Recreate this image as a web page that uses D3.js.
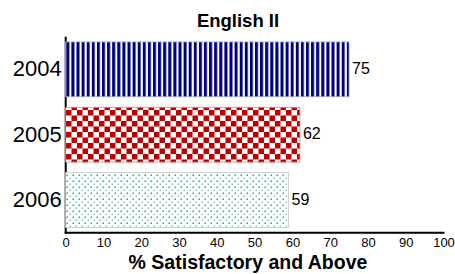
<!DOCTYPE html>
<html>
<head>
<meta charset="utf-8">
<script src="https://cdn.jsdelivr.net/npm/d3@7"></script>
<style>
html,body{margin:0;padding:0;background:#fff;}
svg{display:block;}
text{font-family:Arial,"Liberation Sans",sans-serif;fill:#000;}
</style>
</head>
<body>
<svg id="chart" width="455" height="274"></svg>
<script>
const categories = ["2004", "2005", "2006"];
const values = [75, 62, 59];
const xTicks = [0, 10, 20, 30, 40, 50, 60, 70, 80, 90, 100];
const title = "English II";
const xTitle = "% Satisfactory and Above";

const svg = d3.select("#chart");
const W = 455, H = 274;
const m = {left: 65.7, right: 11.5, top: 36.7, bottom: 41.3};

const x = d3.scaleLinear().domain([0, 100]).range([m.left, W - m.right]);
const y = d3.scaleBand().domain(categories).range([m.top, H - m.bottom]).paddingInner(0.16).paddingOuter(0.08);

// patterns
const defs = svg.append("defs");
const p1 = defs.append("pattern").attr("id", "p2004").attr("patternUnits", "userSpaceOnUse")
  .attr("width", 5.1).attr("height", 10);
p1.append("rect").attr("width", 5.1).attr("height", 10).attr("fill", "#fff");
p1.append("rect").attr("x", 0).attr("width", 3).attr("height", 10).attr("fill", "#000080");

const c = 5.5;
const p2 = defs.append("pattern").attr("id", "p2005").attr("patternUnits", "userSpaceOnUse")
  .attr("width", 2 * c).attr("height", 2 * c);
p2.append("rect").attr("width", 2 * c).attr("height", 2 * c).attr("fill", "#fff");
p2.append("rect").attr("x", 0).attr("y", 0).attr("width", c).attr("height", c).attr("fill", "#c00000");
p2.append("rect").attr("x", c).attr("y", c).attr("width", c).attr("height", c).attr("fill", "#c00000");

const d = 3;
const p3 = defs.append("pattern").attr("id", "p2006").attr("patternUnits", "userSpaceOnUse")
  .attr("width", 2 * d).attr("height", 2 * d);
p3.append("rect").attr("width", 2 * d).attr("height", 2 * d).attr("fill", "#fff");
p3.append("rect").attr("x", 0.5).attr("y", 0.5).attr("width", 1.5).attr("height", 1.5).attr("fill", "#2aaa7c");
p3.append("rect").attr("x", 0.5 + d).attr("y", 0.5 + d).attr("width", 1.5).attr("height", 1.5).attr("fill", "#7fd0b0");

const fills = {"2004": "url(#p2004)", "2005": "url(#p2005)", "2006": "url(#p2006)"};
const strokes = {"2004": "#b0b0c8", "2005": "#e08080", "2006": "#c8c8c8"};

// axes lines
svg.append("line").attr("x1", x(0)).attr("x2", x(0)).attr("y1", m.top).attr("y2", H - m.bottom + 1)
  .attr("stroke", "#000").attr("stroke-width", 2);
svg.append("line").attr("x1", x(0) - 1).attr("x2", x(100) + 1).attr("y1", H - m.bottom).attr("y2", H - m.bottom)
  .attr("stroke", "#000").attr("stroke-width", 2);

// bars
const data = categories.map((k, i) => ({k, v: values[i]}));
svg.selectAll("rect.bar").data(data).join("rect").attr("class", "bar")
  .attr("x", x(0)).attr("y", dd => y(dd.k)).attr("width", dd => x(dd.v) - x(0)).attr("height", y.bandwidth())
  .attr("fill", dd => fills[dd.k]).attr("stroke", dd => strokes[dd.k]).attr("stroke-width", 0.8);

// value labels
svg.selectAll("text.val").data(data).join("text").attr("class", "val")
  .attr("x", dd => x(dd.v) + 3).attr("y", dd => y(dd.k) + y.bandwidth() / 2 - 1)
  .attr("dy", "0.35em").attr("font-size", 16).text(dd => dd.v);

// y axis labels
const yAxis = d3.axisLeft(y).tickSize(0).tickPadding(4);
const gy = svg.append("g").attr("transform", `translate(${x(0)},0)`).call(yAxis);
gy.select(".domain").remove();
gy.selectAll("text").attr("font-size", 22).attr("font-family", "Arial, 'Liberation Sans', sans-serif").attr("fill", "#000");

// x axis labels
const xAxis = d3.axisBottom(x).tickValues(xTicks).tickSize(0).tickPadding(5);
const gx = svg.append("g").attr("transform", `translate(0,${H - m.bottom})`).call(xAxis);
gx.select(".domain").remove();
gx.selectAll("text").attr("font-size", 13).attr("font-family", "Arial, 'Liberation Sans', sans-serif").attr("fill", "#000");

// titles
svg.append("text").attr("x", 238).attr("y", 27).attr("text-anchor", "middle")
  .attr("font-size", 18.5).attr("font-weight", "bold").text(title);
svg.append("text").attr("x", 248).attr("y", 269).attr("text-anchor", "middle")
  .attr("font-size", 19.5).attr("font-weight", "bold").text(xTitle);
</script>
</body>
</html>
